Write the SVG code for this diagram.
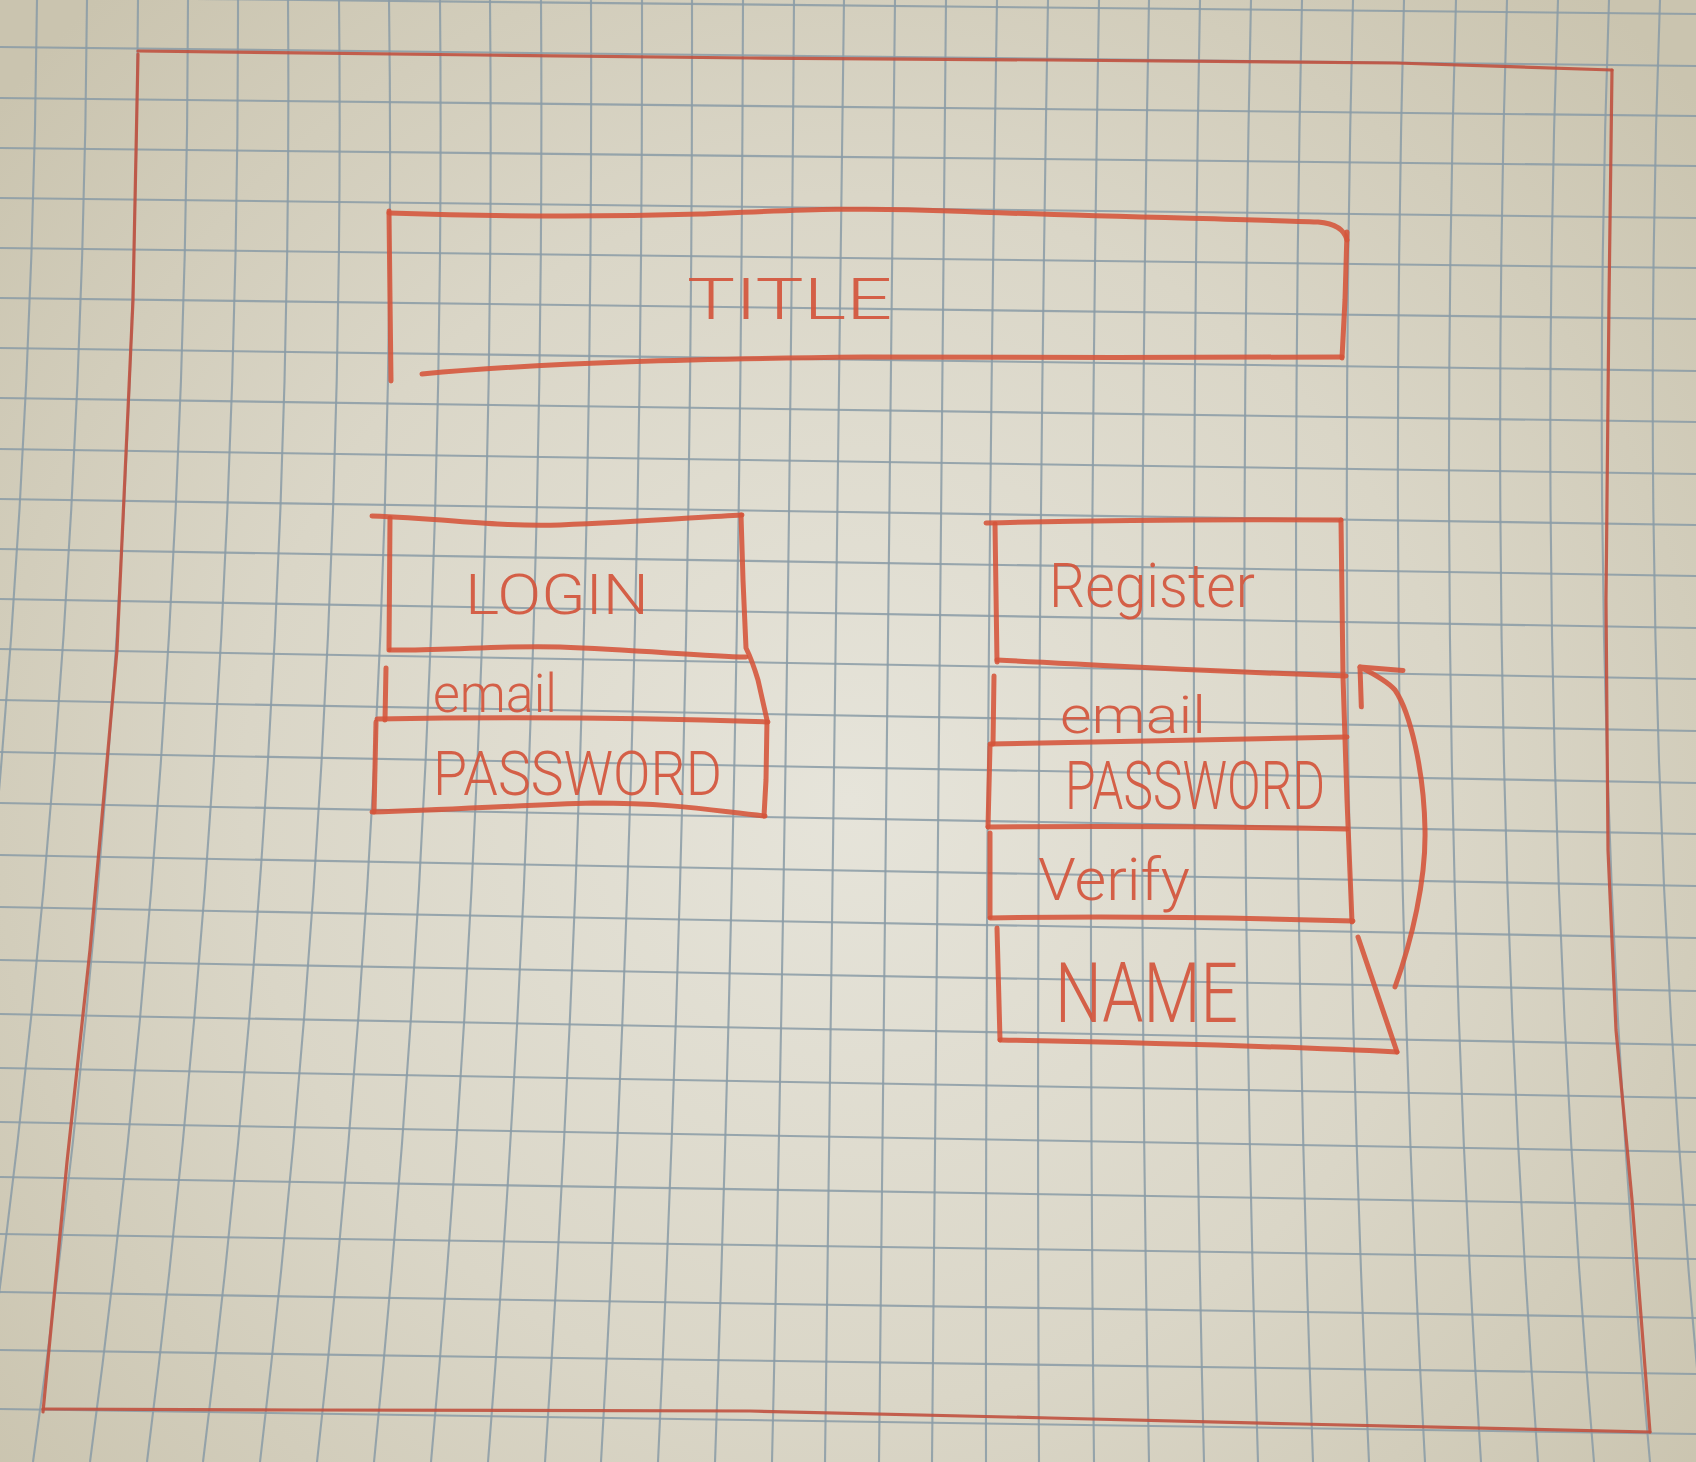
<svg xmlns="http://www.w3.org/2000/svg" width="1696" height="1462" viewBox="0 0 1696 1462">
  <defs>
    <radialGradient id="paperShade" cx="850" cy="800" r="1100" gradientUnits="userSpaceOnUse">
      <stop offset="0" stop-color="#e6e4da"/>
      <stop offset="0.55" stop-color="#dad6c7"/>
      <stop offset="1" stop-color="#cac4af"/>
    </radialGradient>
    <marker id="openHead" markerUnits="userSpaceOnUse" orient="auto" refX="0" refY="0" markerWidth="60" markerHeight="60" overflow="visible">
      <path d="M-40,16 L0,0 L-19,-35" fill="none" stroke="#d5543a" stroke-width="5" stroke-linecap="round" stroke-linejoin="round"/>
    </marker>
    <style>
      .grid { fill: none; stroke: #8a9ba6; stroke-width: 2.1; opacity: 0.85; }
      .frame { fill: none; stroke: #c0513f; stroke-width: 3.2; stroke-linecap: round; stroke-linejoin: round; opacity: 0.9; }
      .pen { fill: none; stroke: #d5543a; stroke-width: 5; stroke-linecap: round; stroke-linejoin: round; opacity: 0.88; }
      .label { fill: #d4553c; font-family: Roboto, "Liberation Sans", Arial, sans-serif; font-weight: 300; opacity: 0.92; }
    </style>
  </defs>

  <!-- graph paper -->
  <g id="paper">
    <rect x="0" y="0" width="1696" height="1462" fill="url(#paperShade)"/>
    <path class="grid" d="M37,0Q30,731 -81,1462 M87,0Q82,731 -24,1462 M138,0Q135,731 33,1462 M188,0Q187,731 90,1462 M238,0Q239,731 147,1462 M288,0Q294,731 203,1462 M339,0Q347,731 260,1462 M389,0Q399,731 317,1462 M440,0Q447,731 374,1462 M490,0Q497,731 431,1462 M541,0Q546,731 488,1462 M591,0Q594,731 545,1462 M642,0Q643,731 601,1462 M692,0Q693,731 658,1462 M743,0Q741,731 715,1462 M794,0Q789,731 772,1462 M844,0Q837,731 825,1462 M895,0Q887,731 879,1462 M946,0Q937,731 932,1462 M997,0Q985,731 986,1462 M1048,0Q1035,731 1039,1462 M1099,0Q1086,731 1094,1462 M1149,0Q1135,731 1149,1462 M1200,0Q1186,731 1204,1462 M1251,0Q1235,731 1258,1462 M1302,0Q1286,731 1313,1462 M1353,0Q1335,731 1369,1462 M1404,0Q1385,731 1425,1462 M1456,0Q1434,731 1481,1462 M1507,0Q1484,731 1538,1462 M1558,0Q1532,731 1594,1462 M1609,0Q1583,731 1650,1462 M1660,0Q1633,731 1706,1462 M1712,0Q1681,731 1762,1462"/>
    <path class="grid" d="M0,-3L1696,14 M0,47L1696,66 M0,98L1696,116 M0,148L1696,166 M0,198L1696,218 M0,248L1696,268 M0,298L1696,319 M0,348L1696,371 M0,398L1696,422 M0,449L1696,474 M0,499L1696,525 M0,549L1696,576 M0,599L1696,628 M0,649L1696,679 M0,700L1696,731 M0,752L1696,783 M0,803L1696,834 M0,855L1696,886 M0,907L1696,938 M0,960L1696,991 M0,1014L1696,1045 M0,1068L1696,1098 M0,1122L1696,1152 M0,1177L1696,1205 M0,1234L1696,1259 M0,1292L1696,1318 M0,1350L1696,1374 M0,1409L1696,1434 M0,1467L1696,1493"/>
  </g>

  <!-- page outline -->
  <g id="page-frame">
    <path class="frame" d="M138,51 L480,55 L750,58 L1050,60 L1396,63 L1612,70"/>
    <path class="frame" d="M1612,70 L1609,300 L1606,600 L1608,850 L1616,1030 L1632,1200 L1650,1432"/>
    <path class="frame" d="M1650,1432 L1300,1424 L1050,1418 L750,1411 L300,1410 L43,1409"/>
    <path class="frame" d="M43,1412 L67,1162 L90,950 L117,650 L133,300 L138,54"/>
  </g>

  <!-- title bar -->
  <g id="title">
    <path class="pen" d="M389,211 L390,300 L391,381"/>
    <path class="pen" d="M389,213 C480,216 600,217 700,214 C800,210 860,207 950,211 C1100,217 1250,219 1318,222 Q1343,224 1347,240"/>
    <path class="pen" d="M1347,232 L1345,300 L1342,358"/>
    <path class="pen" d="M1342,357 C1200,358 1000,357 865,357 C700,359 550,362 422,374"/>
    <text class="label" x="687" y="319" font-size="58" textLength="205" lengthAdjust="spacingAndGlyphs">TITLE</text>
  </g>

  <!-- login form -->
  <g id="login">
    <path class="pen" d="M372,516 C450,519 500,527 560,525 C640,522 700,517 742,515"/>
    <path class="pen" d="M390,518 L389,650"/>
    <path class="pen" d="M390,650 C450,651 500,645 560,647 C640,650 700,656 746,657"/>
    <path class="pen" d="M741,515 L743,580 L746,648 Q752,660 758,680 L767,720 L766,780 L764,816"/>
    <path class="pen" d="M386,668 L385,720"/>
    <path class="pen" d="M377,719 C500,717 650,718 768,722"/>
    <path class="pen" d="M376,722 L374,812"/>
    <path class="pen" d="M372,812 C450,810 520,805 593,803 C680,803 720,812 765,816"/>
    <text class="label" x="465" y="614" font-size="56" textLength="184" lengthAdjust="spacingAndGlyphs">LOGIN</text>
    <text class="label" x="433" y="712" font-size="54" textLength="124" lengthAdjust="spacingAndGlyphs">email</text>
    <text class="label" x="433" y="795" font-size="62" textLength="289" lengthAdjust="spacingAndGlyphs">PASSWORD</text>
  </g>

  <!-- register form -->
  <g id="register">
    <path class="pen" d="M986,523 C1100,520 1200,519 1341,520"/>
    <path class="pen" d="M995,524 L997,662"/>
    <path class="pen" d="M997,660 C1100,665 1200,671 1346,676"/>
    <path class="pen" d="M1341,520 L1343,677 L1347,800 L1352,922"/>
    <path class="pen" d="M994,676 L993,744"/>
    <path class="pen" d="M990,744 C1100,742 1250,739 1347,737"/>
    <path class="pen" d="M990,746 L988,827"/>
    <path class="pen" d="M988,827 C1100,826 1250,827 1347,829"/>
    <path class="pen" d="M990,833 L990,917"/>
    <path class="pen" d="M990,918 C1100,916 1250,918 1353,921"/>
    <path class="pen" d="M997,928 L1000,1040"/>
    <path class="pen" d="M1000,1040 C1150,1043 1300,1047 1397,1052"/>
    <path class="pen" d="M1358,937 L1397,1052"/>
    <text class="label" x="1049" y="607" font-size="62" textLength="206" lengthAdjust="spacingAndGlyphs">Register</text>
    <text class="label" x="1060" y="733" font-size="52" textLength="146" lengthAdjust="spacingAndGlyphs">email</text>
    <text class="label" x="1065" y="809" font-size="66" textLength="260" lengthAdjust="spacingAndGlyphs">PASSWORD</text>
    <text class="label" x="1038" y="900" font-size="60" textLength="152" lengthAdjust="spacingAndGlyphs">Verify</text>
    <text class="label" x="1055" y="1022" font-size="84" textLength="183" lengthAdjust="spacingAndGlyphs">NAME</text>
  </g>

  <!-- return arrow from NAME back up to email -->
  <g id="connectors">
    <path class="pen" marker-end="url(#openHead)" d="M1395,987 C1412,940 1426,880 1425,830 C1424,770 1410,712 1395,690 C1388,682 1378,676 1360,667"/>
  </g>
</svg>
